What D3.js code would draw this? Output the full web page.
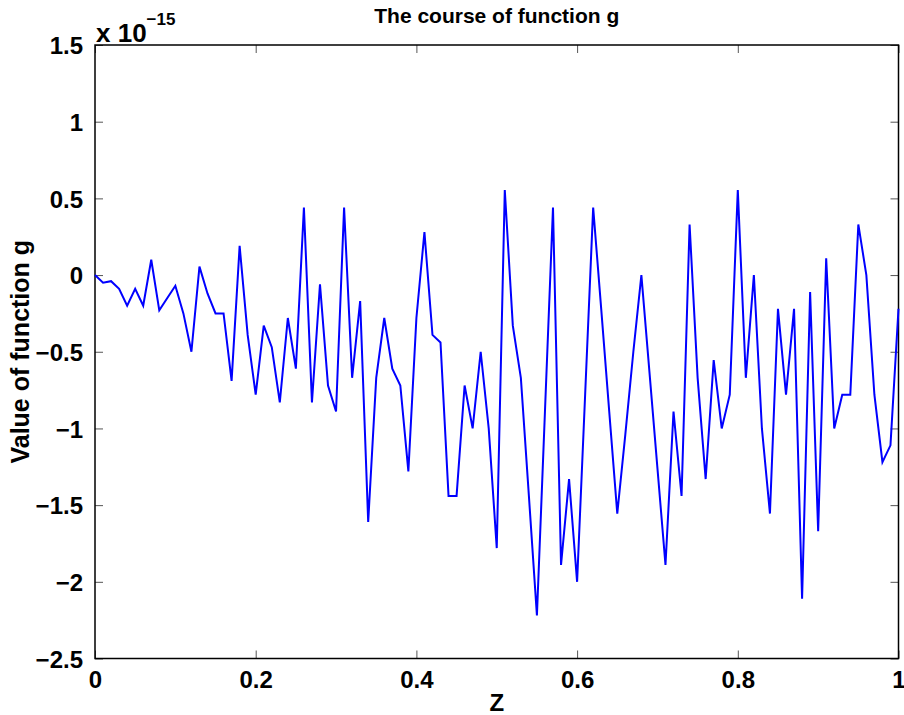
<!DOCTYPE html>
<html>
<head>
<meta charset="utf-8">
<script src="https://cdn.jsdelivr.net/npm/d3@7"></script>
<style>
  body { margin: 0; background: #fff; }
  text { font-family: "Liberation Sans", Arial, sans-serif; font-weight: bold; }
</style>
</head>
<body>
<div id="chart-area"></div>
<script>
// values of g, in units of 1e-15, sampled at z = 0, 0.01, ..., 1
const gValues = [
    0, -0.05, -0.04, -0.09, -0.2, -0.09, -0.2, 0.1, -0.23, -0.15, -0.07, -0.25, -0.5, 0.055, -0.12, -0.25, -0.25,
    -0.69, 0.19, -0.39, -0.78, -0.33, -0.47, -0.83, -0.28, -0.61, 0.44, -0.83, -0.06, -0.72, -0.89, 0.44, -0.67, -0.17,
    -1.61, -0.67, -0.28, -0.61, -0.72, -1.28, -0.28, 0.28, -0.39, -0.44, -1.44, -1.44, -0.72, -1.0, -0.5,
    -1.0, -1.78, 0.555, -0.33, -0.67, -1.44, -2.22, -0.89, 0.44, -1.89, -1.33, -2.0, -0.78, 0.44, -0.22, -0.89, -1.555,
    -1.04, -0.5, 0, -0.63, -1.26, -1.89, -0.89, -1.44, 0.33, -0.67, -1.33, -0.555, -1.0, -0.78, 0.555, -0.67, 0, -1.0, -1.555,
    -0.22, -0.78, -0.22, -2.11, -0.11, -1.67, 0.11, -1.0, -0.78, -0.78, 0.33, 0, -0.78, -1.22, -1.11, -0.22
];
const zValues = gValues.map((v, i) => i / 100);

const xTicks = [0, 0.2, 0.4, 0.6, 0.8, 1];
const yTicks = [-2.5, -2, -1.5, -1, -0.5, 0, 0.5, 1, 1.5];

const width = 904;
const height = 715;
const margin = { left: 95, right: 5.5, top: 45, bottom: 56.5 };
const chartWidth = width - margin.left - margin.right;
const chartHeight = height - margin.top - margin.bottom;

const svg = d3.select('#chart-area')
    .append('svg')
    .attr('width', width)
    .attr('height', height);

const g = svg.append('g')
    .attr('transform', `translate(${margin.left}, ${margin.top})`);

const x = d3.scaleLinear().domain([0, 1]).range([0, chartWidth]);
const y = d3.scaleLinear().domain([-2.5, 1.5]).range([chartHeight, 0]);

const fmt = d => (d < 0 ? '\u2212' : '') + String(Math.abs(d));

// axes, MATLAB style: ticks inside, mirrored on all sides
const xAxis = d3.axisBottom(x).tickValues(xTicks).tickSizeInner(-8).tickSizeOuter(0).tickPadding(12).tickFormat(fmt);
const yAxis = d3.axisLeft(y).tickValues(yTicks).tickSizeInner(-8).tickSizeOuter(0).tickPadding(12).tickFormat(fmt);

const gx = g.append('g').attr('transform', `translate(0, ${chartHeight})`).call(xAxis);
const gy = g.append('g').call(yAxis);
g.append('g').call(d3.axisTop(x).tickValues(xTicks).tickSizeInner(-8).tickSizeOuter(0).tickFormat(''));
g.append('g').attr('transform', `translate(${chartWidth}, 0)`)
    .call(d3.axisRight(y).tickValues(yTicks).tickSizeInner(-8).tickSizeOuter(0).tickFormat(''));

g.selectAll('.domain').remove();
g.selectAll('.tick line').attr('stroke', '#555').attr('stroke-width', 1);
gx.selectAll('text').attr('font-size', 24).attr('fill', '#000');
gy.selectAll('text').attr('font-size', 24).attr('fill', '#000').attr('dy', '0.36em');

g.append('rect')
    .attr('width', chartWidth)
    .attr('height', chartHeight)
    .attr('fill', 'none')
    .attr('stroke', '#000')
    .attr('stroke-width', 1.5);

const line = d3.line()
    .x((d, i) => x(zValues[i]))
    .y(d => y(d));

g.append('path')
    .datum(gValues)
    .attr('d', line)
    .attr('fill', 'none')
    .attr('stroke', '#0000ff')
    .attr('stroke-width', 2);

// exponent label
const expo = svg.append('text')
    .attr('x', margin.left + 1)
    .attr('y', 42)
    .attr('font-size', 26);
expo.append('tspan').text('x 10');
expo.append('tspan').attr('dy', -17).attr('font-size', 17).text('\u221215');

svg.append('text')
    .attr('x', margin.left + chartWidth / 2)
    .attr('y', 23)
    .attr('text-anchor', 'middle')
    .attr('font-size', 21)
    .text('The course of function g');

svg.append('text')
    .attr('x', margin.left + chartWidth / 2)
    .attr('y', 711)
    .attr('text-anchor', 'middle')
    .attr('font-size', 24)
    .text('Z');

svg.append('text')
    .attr('transform', `translate(29, ${margin.top + chartHeight / 2}) rotate(-90)`)
    .attr('text-anchor', 'middle')
    .attr('font-size', 25)
    .text('Value of function g');
</script>
</body>
</html>
